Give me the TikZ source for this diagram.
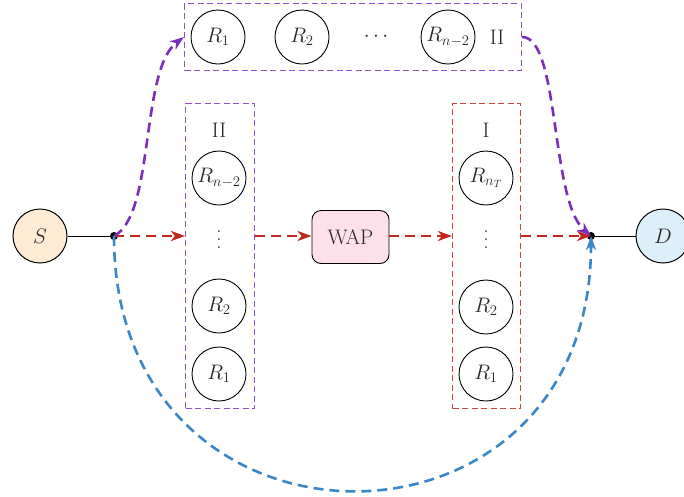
\RequirePackage{fix-cm}
\documentclass[tikz,border=0pt]{standalone}
\usepackage{fontspec}
\usetikzlibrary{arrows.meta}
\definecolor{cpurple}{HTML}{7A2FB8}
\definecolor{cpurpbox}{HTML}{9052CC}
\definecolor{cred}{HTML}{C0271F}
\definecolor{credbox}{HTML}{C8463C}
\definecolor{cblue}{HTML}{3A86C8}
\definecolor{sfill}{HTML}{FDEBD3}
\definecolor{dfill}{HTML}{DDEFF9}
\definecolor{wfill}{HTML}{FDE0EA}
\newcommand{\tallvdots}{\vbox{\baselineskip=8pt\lineskiplimit=0pt\hbox{.}\hbox{.}\hbox{.}}}
\tikzset{
  txt/.style={font=\fontsize{21}{24}\selectfont, text=black!85},
  dotsv/.style={font=\fontsize{21}{24}\selectfont, text=black!85, inner sep=0pt},
  relay/.style={circle, draw=black, line width=0.9pt, minimum size=54pt, inner sep=0pt, txt},
  endpt/.style={relay, line width=1pt},
  boxP/.style={draw=cpurpbox, dash pattern=on 6pt off 3.5pt, line width=1.1pt, inner sep=0pt},
  boxR/.style={draw=credbox, dash pattern=on 6pt off 3.5pt, line width=1.1pt, inner sep=0pt},
  jdot/.style={circle, fill=black, minimum size=8pt, inner sep=0pt},
  flow/.style={line width=2.6pt, dash pattern=on 10pt off 6pt, -{Stealth[length=14pt,width=10pt,inset=4pt]}},
}
\begin{document}
\begin{tikzpicture}[x=1pt,y=-1pt]
\useasboundingbox (0,0) rectangle (684,496);
% boxes
\node[boxP, minimum width=337pt, minimum height=67pt] (top) at (353,37) {};
\node[boxP, minimum width=69pt, minimum height=305pt] (lbox) at (220,256) {};
\node[boxR, minimum width=68pt, minimum height=305pt] (rbox) at (486.5,256) {};
% endpoints
\node[endpt, fill=sfill] (S) at (40,236) {$S$};
\node[endpt, fill=dfill] (D) at (663,236) {$D$};
\node[jdot] (j1) at (114,236) {};
\node[jdot] (j2) at (591,236) {};
% top row
\node[relay] (t1) at (218,37) {$R_1$};
\node[relay] (t2) at (302,37) {$R_2$};
\node[txt] (tdots) at (376,37) {$\cdots$};
\node[relay] (t3) at (448,37) {$R_{n-2}$};
\node[txt] (tII) at (497,37) {II};
% left column
\node[txt] (lII) at (219,130) {II};
\node[relay] (l3) at (219,178) {$R_{n-2}$};
\node[dotsv] (ldots) at (219,240) {\tallvdots};
\node[relay] (l2) at (219,306) {$R_2$};
\node[relay] (l1) at (219,374) {$R_1$};
% right column
\node[txt] (rI) at (486,130) {I};
\node[relay] (r3) at (486,178) {$R_{n_T}$};
\node[dotsv] (rdots) at (486,240) {\tallvdots};
\node[relay] (r2) at (486,307) {$R_2$};
\node[relay] (r1) at (486,374) {$R_1$};
% WAP
\node[draw=black, line width=0.9pt, rounded corners=9pt, fill=wfill, minimum width=77pt, minimum height=53pt, txt] (wap) at (350.5,237) {WAP};
% links
\draw[line width=0.8pt] (S) -- (j1);
\draw[line width=0.8pt] (D) -- (j2);
\draw[flow, cred] (j1.center) -- (j1 -| lbox.west);
\draw[flow, cred] (j1 -| lbox.east) -- (j1 -| wap.west);
\draw[flow, cred] (j1 -| wap.east) -- (j1 -| rbox.west);
\draw[flow, cred] (j2 -| rbox.east) -- (j2.center);
\draw[flow, cpurple] (j1.center) .. controls (155,215) and (140,70) .. (top.west);
\draw[flow, cpurple] (top.east) .. controls (560,37) and (550,200) .. (j2.center);
\draw[flow, cblue] (j1.center) .. controls (114,575) and (591,575) .. (j2.center);
\end{tikzpicture}
\end{document}
